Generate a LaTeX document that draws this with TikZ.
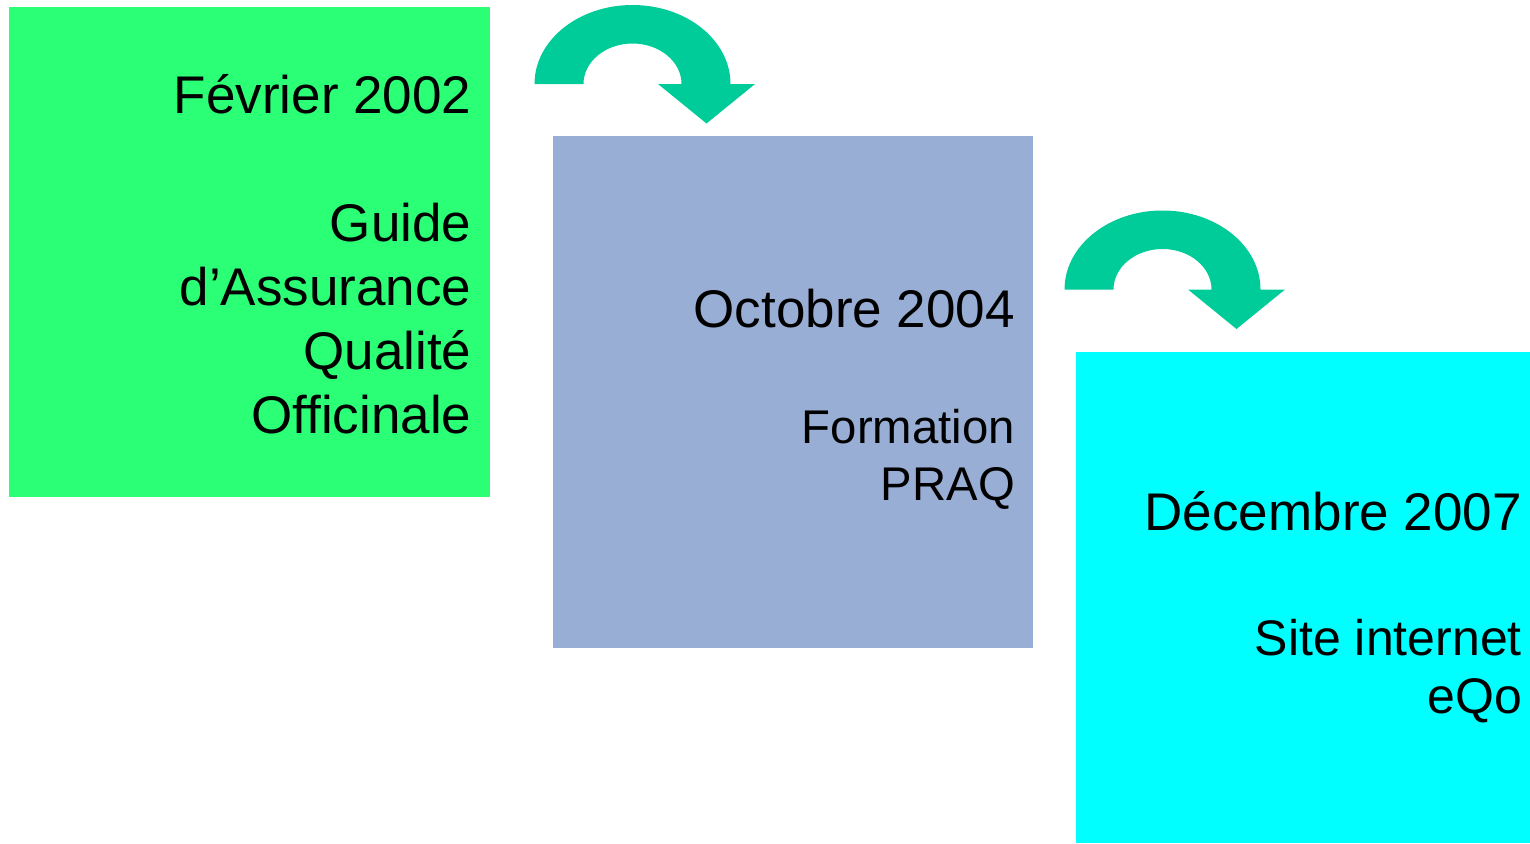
\documentclass[tikz,border=0pt]{standalone}
\usepackage{fontspec}
\setmainfont{Liberation Sans}
\definecolor{boxgreen}{RGB}{42,255,118}
\definecolor{boxblue}{RGB}{153,174,212}
\definecolor{boxcyan}{RGB}{0,255,255}
\definecolor{arrowgreen}{RGB}{0,204,153}
\begin{document}
\begin{tikzpicture}[x=1pt,y=-1pt,
  panel/.style={fill=#1, draw=none, inner sep=0pt, outer sep=0pt, anchor=north west},
  big/.style={anchor=base east, inner sep=0pt, font=\fontsize{53}{64}\selectfont},
  small/.style={anchor=base east, inner sep=0pt, font=\fontsize{47.3}{57}\selectfont},
  mid/.style={anchor=base east, inner sep=0pt, font=\fontsize{50}{58}\selectfont},
  uturn/.pic={
    \fill[arrowgreen] (-98,0) arc[start angle=180,end angle=360,x radius=98,y radius=79]
      -- (122.5,0) -- (74,39.5) -- (25.5,0) -- (49,0)
      arc[start angle=360,end angle=180,x radius=49,y radius=40.5] -- cycle;
  }]
\useasboundingbox (0,0) rectangle (1530,843);
\fill[white] (0,0) rectangle (1530,843);
% boxes
\node[panel=boxgreen, minimum width=481pt, minimum height=490pt] (box1) at (9,7) {};
\node[panel=boxblue, minimum width=480pt, minimum height=512pt] (box2) at (553,136) {};
\node[panel=boxcyan, minimum width=454pt, minimum height=491pt] (box3) at (1076,352) {};
% texts box 1
\node[big] (t1a) at (471.5,113) {Février 2002};
\node[big] (t1b) at (471.5,241) {Guide};
\node[big] (t1c) at (471.5,305) {d’Assurance};
\node[big] (t1d) at (471.5,369) {Qualité};
\node[big] (t1e) at (471.5,433) {Officinale};
% texts box 2
\node[big] (t2a) at (1015,327) {Octobre 2004};
\node[small] (t2b) at (1015,443) {Formation};
\node[small] (t2c) at (1015,500) {PRAQ};
% texts box 3
\node[big] (t3a) at (1522,530) {Décembre 2007};
\node[mid] (t3b) at (1522,655) {Site internet};
\node[mid] (t3c) at (1522,713) {eQo};
% arrows
\pic at (632.5,84) {uturn};
\pic at (1162.5,289.5) {uturn};
\end{tikzpicture}
\end{document}
